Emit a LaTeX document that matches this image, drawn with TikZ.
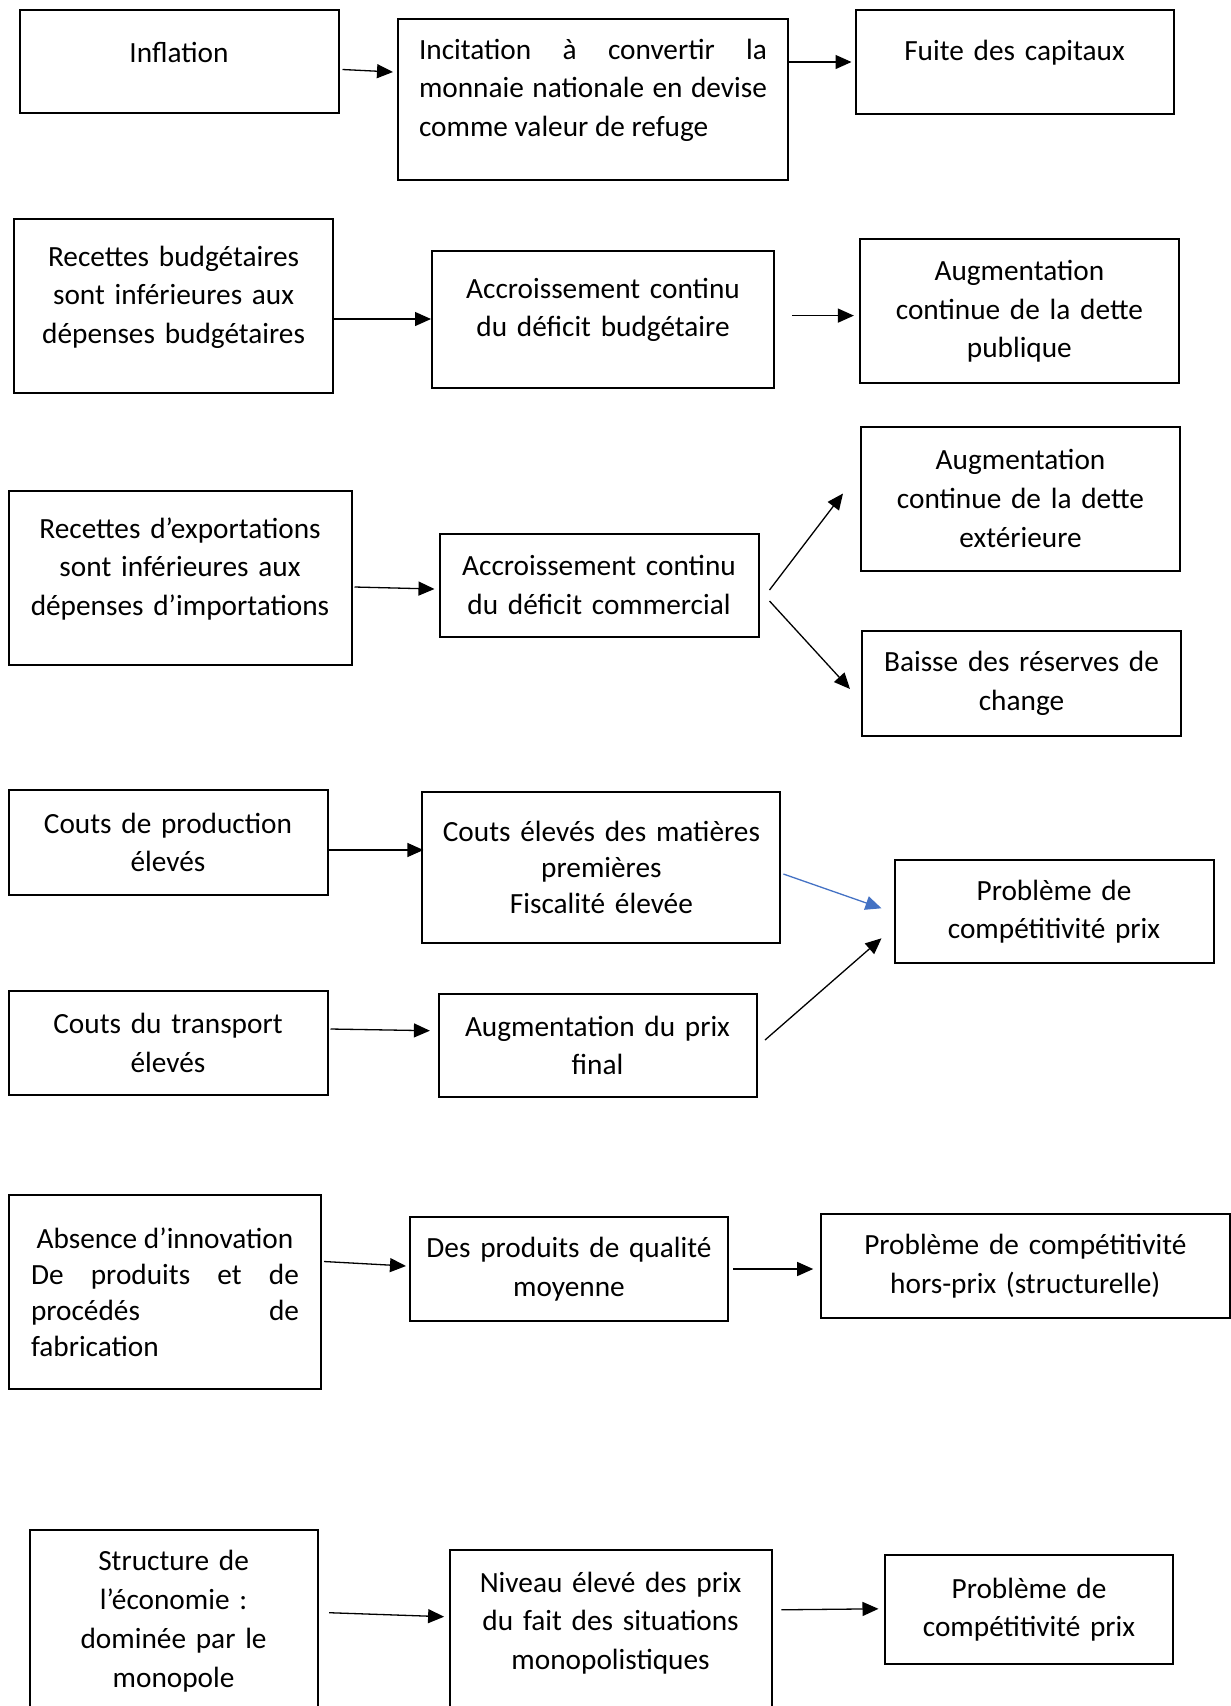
\documentclass[tikz,border=0pt]{standalone}
\usepackage{fontspec}
\setmainfont{Carlito}
\usepackage{tikz}
\usetikzlibrary{positioning,arrows.meta}
\definecolor{wordblue}{RGB}{68,114,196}
\newcommand\lowgap{\endgraf\kern18pt}

\begin{document}
\begin{tikzpicture}[
        x=1pt, y=-1pt,
        font=\fontsize{29.3}{38.6}\selectfont,
        box/.style 2 args={draw, line width=2pt, minimum width=#1, minimum height=#2,
            text width=#1-30pt, align=center, inner sep=0pt},
        raised/.style={execute at end node=\lowgap},
        tight/.style={font=\fontsize{29.3}{36}\selectfont},
        arr/.style={-{Triangle[length=16pt,width=14pt]}, line width=1.3pt}
    ]
    \useasboundingbox (0,0) rectangle (1231,1706);

    % Row 1: inflation
    \node[box={319pt}{103pt}, raised] (infl) at (179,61.5) {Inflation};
    \node[box={390pt}{161pt}, raised, text width=348pt, align=justify] (incit) at (593,99)
        {Incitation à convertir la\linebreak monnaie nationale en devise\linebreak comme valeur de refuge};
    \node[box={318pt}{104pt}, raised] (fuite) at (1014.5,62) {Fuite des capitaux};

    % Row 2: budget
    \node[box={319pt}{174pt}, raised] (rb) at (173.6,306) {Recettes budgétaires\\ sont inférieures aux\\ dépenses budgétaires};
    \node[box={342pt}{137pt}, raised] (adb) at (603,319) {Accroissement continu\\ du déficit budgétaire};
    \node[box={319pt}{144pt}] (adp) at (1019.4,311.3) {Augmentation\\ continue de la dette\\ publique};

    % Row 3: trade
    \node[box={343pt}{174pt}, raised] (re) at (180,578) {Recettes d’exportations\\ sont inférieures aux\\ dépenses d’importations};
    \node[box={319pt}{103pt}] (adc) at (599,585) {Accroissement continu\\ du déficit commercial};
    \node[box={319pt}{144pt}] (ade) at (1020.5,498.5) {Augmentation\\ continue de la dette\\ extérieure};
    \node[box={319pt}{104.5pt}] (brc) at (1021.5,683.5) {Baisse des réserves de\\ change};

    % Row 4: price competitiveness
    \node[box={319pt}{104.5pt}] (cpe) at (168,842.5) {Couts de production\\ élevés};
    \node[box={358pt}{151pt}, tight] (cem) at (601.4,867) {Couts élevés des matières\\ premières\\ Fiscalité élevée};
    \node[box={319pt}{103.4pt}] (pcp) at (1054,911.6) {Problème de\\ compétitivité prix};
    \node[box={319pt}{103.5pt}] (cte) at (168,1043) {Couts du transport\\ élevés};
    \node[box={318pt}{103.4pt}] (apf) at (597.5,1045.4) {Augmentation du prix\\ final};

    % Row 5: innovation
    \node[box={312pt}{194pt}, tight, text width=268pt, align=justify] (ain) at (165,1292)
        {\makebox[\linewidth]{Absence d’innovation}\endgraf De produits et de\linebreak procédés de\linebreak fabrication};
    \node[box={318pt}{104.5pt}] (dpq) at (569,1269) {Des produits de qualité\\ moyenne};
    \node[box={409pt}{104.5pt}] (phors) at (1025.3,1266) {Problème de compétitivité\\ hors-prix (structurelle)};

    % Row 6: monopoly
    \node[box={288pt}{182pt}, font=\fontsize{29.3}{39.2}\selectfont] (sde) at (173.6,1621) {Structure de\\ l’économie :\\ dominée par le\\ monopole};
    \node[box={322pt}{164pt}, raised] (nep) at (610.6,1632) {Niveau élevé des prix\\ du fait des situations\\ monopolistiques};
    \node[box={288pt}{109pt}] (pcp2) at (1029,1609.8) {Problème de\\ compétitivité prix};

    % Arrows
    \draw[arr] ([xshift=3pt,yshift=-8pt]infl.east) -- ([xshift=-4pt,yshift=27pt]incit.west);
    \draw[arr] (incit.east |- fuite.west) -- ([xshift=-3pt]fuite.west);

    \draw[arr] (rb.east |- adb.west) -- (adb.west);
    \draw[arr] ([xshift=17pt,yshift=3.4pt]adb.east) -- ([xshift=-5pt,yshift=-4.3pt]adp.west);

    \draw[arr] ([xshift=2pt,yshift=-9pt]re.east) -- ([xshift=-4pt,yshift=-4pt]adc.west);
    \draw[arr] ([xshift=10pt,yshift=-5pt]adc.east) -- ([xshift=-17pt,yshift=5pt]ade.west);
    \draw[arr] ([xshift=10pt,yshift=-16pt]adc.east) -- ([xshift=-11pt,yshift=-5.5pt]brc.west);

    \draw[arr] ([yshift=-7.5pt]cpe.east) -- ([xshift=2pt,yshift=17pt]cem.west);
    \draw[arr, wordblue] ([xshift=2pt,yshift=-7pt]cem.east) -- ([xshift=-12pt,yshift=3.3pt]pcp.west);
    \draw[arr] ([xshift=2pt,yshift=14pt]cte.east) -- ([xshift=-7.6pt,yshift=14.7pt]apf.west);
    \draw[arr] ([xshift=7.5pt,yshift=5.4pt]apf.east) -- ([xshift=-12pt,yshift=-26.7pt]pcp.west);

    \draw[arr] ([xshift=2pt,yshift=30.5pt]ain.east) -- ([xshift=-3pt,yshift=3pt]dpq.west);
    \draw[arr] ([xshift=4pt]dpq.east) -- ([xshift=-6.6pt,yshift=-3pt]phors.west);

    \draw[arr] ([xshift=10.5pt,yshift=8.3pt]sde.east) -- ([xshift=-4.5pt,yshift=15.3pt]nep.west);
    \draw[arr] ([xshift=8.7pt,yshift=22.2pt]nep.east) -- ([xshift=-5.5pt,yshift=1pt]pcp2.west);

\end{tikzpicture}
\end{document}
